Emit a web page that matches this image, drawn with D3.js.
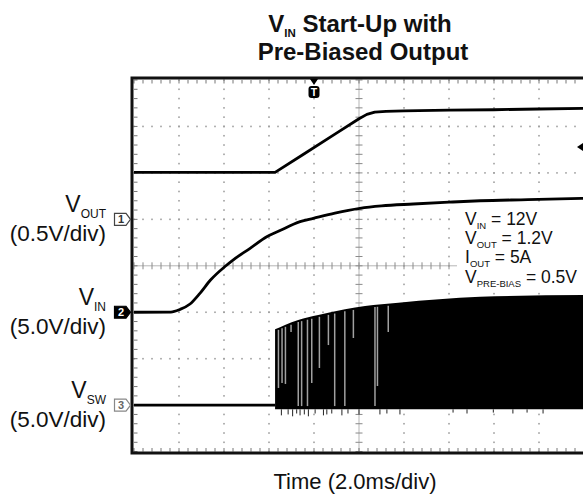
<!DOCTYPE html>
<html><head><meta charset="utf-8">
<script src="https://cdn.jsdelivr.net/npm/d3@7"></script>
<style>
html,body{margin:0;padding:0;background:#fff;}
svg{display:block;font-family:"Liberation Sans",Arial,Helvetica,sans-serif;}
</style></head><body>
<svg id="chart" width="583" height="497"></svg>
<script>
// ---------- data ----------
const titleLine1 = ["V", "IN", " Start-Up with"];
const titleLine2 = "Pre-Biased Output";
const xLabel = "Time (2.0ms/div)";
const msPerDiv = 2.0;
const timeDomain = [0, 20];           // ms across 10 divisions
const triggerTime = 8.0;              // ms
const triggerLevelDiv = 2.56;

const channelMain = ["V", "V", "V"];
const channelSub = ["OUT", "IN", "SW"];
const channelScaleText = ["(0.5V/div)", "(5.0V/div)", "(5.0V/div)"];
const channelNum = ["1", "2", "3"];
const voltsPerDiv = [0.5, 5.0, 5.0];
const groundDiv = [1, -1, -3];

// Channel 1: V_OUT (V)
const voutT = [0, 3, 6.27, 7.5, 9.0, 10.0, 10.35, 10.7, 11.2, 12, 14, 16, 18, 20];
const voutV = [0.505, 0.505, 0.505, 0.695, 0.928, 1.083, 1.130, 1.155, 1.163, 1.168, 1.175, 1.180, 1.188, 1.195];

// Channel 2: V_IN (V)
const vinT = [0, 1.64, 2.04, 2.49, 2.93, 3.40, 4.07, 4.40, 5.16, 5.90, 6.49, 7.38, 7.97, 8.93, 10.04, 11.0, 12.41, 14.0, 15.38, 17.5, 20];
const vinV = [0, 0.02, 0.30, 0.89, 2.04, 3.47, 4.98, 5.62, 6.88, 8.13, 8.80, 9.75, 10.11, 10.68, 11.19, 11.45, 11.65, 11.85, 12.0, 12.12, 12.27];

// Channel 3: V_SW (V) - idle part and switching envelope
const vswIdleT = [0, 6.27];
const vswIdleV = [0, 0];
const vswEnvT = [6.27, 6.71, 7.30, 8.19, 9.38, 10.27, 11.75, 15.38, 20];
const vswHighV = [8.16, 8.63, 9.17, 9.70, 10.32, 10.67, 11.03, 11.67, 11.86];
const vswLowV = [-0.45, -0.45, -0.45, -0.45, -0.45, -0.45, -0.45, -0.45, -0.45];
// pulse-skipping gaps: time (ms) and lowest voltage of gap
const gapT = [6.42, 6.58, 6.73, 6.98, 7.30, 7.45, 7.71, 7.90, 8.24, 8.64, 8.92, 9.37, 9.75, 10.71, 10.82, 11.30];
const gapV = [1.85, 2.39, 2.28, 7.87, -0.1, -0.1, -0.1, 2.39, 4.0, 6.47, -0.1, -0.1, 7.23, -0.1, 2.06, 7.87];
// ringing spikes below the low envelope
const spikeT = [6.55, 6.85, 7.05, 7.23, 7.38, 7.57, 7.75, 8.05, 8.42, 8.57, 8.79, 9.24, 9.51, 10.0, 10.93, 11.24, 11.82, 14.18, 14.8, 15.97, 16.84, 17.47, 18.18];
const spikeV = [-1.1, -1.0, -1.2, -0.9, -1.1, -1.0, -1.2, -0.9, -1.1, -1.0, -0.9, -1.1, -0.9, -1.0, -1.0, -0.9, -1.0, -0.8, -0.9, -0.8, -0.9, -0.8, -0.9];

const noteMain = ["V", "V", "I", "V"];
const noteSub = ["IN", "OUT", "OUT", "PRE-BIAS"];
const noteRest = [" = 12V", " = 1.2V", " = 5A", " = 0.5V"];

// ---------- layout ----------
const svg = d3.select("#chart");
const x = d3.scaleLinear().domain(timeDomain).range([134, 584]);
const yDiv = d3.scaleLinear().domain([-4, 4]).range([451.6, 80]);
const chY = i => d3.scaleLinear().domain([0, voltsPerDiv[i]]).range([yDiv(groundDiv[i]), yDiv(groundDiv[i] + 1)]);
const yOut = chY(0), yIn = chY(1), ySw = chY(2);

// title
const t1 = svg.append("text").attr("x", 360).attr("y", 31.5).attr("text-anchor", "middle")
  .attr("font-size", 24).attr("font-weight", "bold").attr("fill", "#111");
t1.append("tspan").text(titleLine1[0]);
t1.append("tspan").attr("font-size", 11.5).attr("dy", 5.5).text(titleLine1[1]);
t1.append("tspan").attr("dy", -5.5).text(titleLine1[2]);
svg.append("text").attr("x", 363).attr("y", 60).attr("text-anchor", "middle")
  .attr("font-size", 24).attr("font-weight", "bold").attr("fill", "#111").text(titleLine2);

// graticule
const g = svg.append("g");
const minorX = d3.range(timeDomain[0], timeDomain[1] + 0.001, msPerDiv / 5);
const minorY = d3.range(-4, 4.001, 0.2);
const majorX = d3.range(1, 10).map(d => timeDomain[0] + d * msPerDiv);
const majorY = d3.range(-3, 4);
const dotColor = "#a0a0a0";
majorX.forEach(mx => {
  if (Math.abs(mx - 10) < 1e-6) return;
  minorY.forEach(my => g.append("rect").attr("x", x(mx) - 0.8).attr("y", yDiv(my) - 0.8)
    .attr("width", 1.6).attr("height", 1.6).attr("fill", dotColor));
});
majorY.forEach(my => {
  if (my === 0) return;
  minorX.forEach(mx => g.append("rect").attr("x", x(mx) - 0.8).attr("y", yDiv(my) - 0.8)
    .attr("width", 1.6).attr("height", 1.6).attr("fill", dotColor));
});
// center crosshair with ticks
g.append("line").attr("x1", x(0)).attr("x2", x(20)).attr("y1", yDiv(0)).attr("y2", yDiv(0))
  .attr("stroke", "#b5b5b5").attr("stroke-width", 1);
g.append("line").attr("x1", x(10)).attr("x2", x(10)).attr("y1", yDiv(-4)).attr("y2", yDiv(4))
  .attr("stroke", "#b5b5b5").attr("stroke-width", 1);
minorX.forEach(mx => g.append("line").attr("x1", x(mx)).attr("x2", x(mx))
  .attr("y1", yDiv(0) - 3.5).attr("y2", yDiv(0) + 3.5).attr("stroke", "#8a8a8a"));
minorY.forEach(my => g.append("line").attr("y1", yDiv(my)).attr("y2", yDiv(my))
  .attr("x1", x(10) - 3.5).attr("x2", x(10) + 3.5).attr("stroke", "#8a8a8a"));
// edge ticks
minorX.forEach(mx => {
  g.append("line").attr("x1", x(mx)).attr("x2", x(mx)).attr("y1", 80).attr("y2", 83.5).attr("stroke", "#777");
  g.append("line").attr("x1", x(mx)).attr("x2", x(mx)).attr("y1", 451.6).attr("y2", 448).attr("stroke", "#777");
});
minorY.forEach(my => g.append("line").attr("y1", yDiv(my)).attr("y2", yDiv(my))
  .attr("x1", 134).attr("x2", 137.5).attr("stroke", "#777"));

// frame
svg.append("rect").attr("x", 132).attr("y", 78).attr("width", 454).attr("height", 375)
  .attr("fill", "none").attr("stroke", "#111").attr("stroke-width", 3);

// annotation background
svg.append("rect").attr("x", 457).attr("y", 206).attr("width", 126).attr("height", 83).attr("fill", "#fff");

// traces
const lineOut = d3.line().x((d, i) => x(voutT[i])).y(d => yOut(d));
const lineIn = d3.line().x((d, i) => x(vinT[i])).y(d => yIn(d)).curve(d3.curveMonotoneX);
const lineSw = d3.line().x((d, i) => x(vswIdleT[i])).y(d => ySw(d));
const traceStyle = s => s.attr("fill", "none").attr("stroke", "#000").attr("stroke-width", 2.8)
  .attr("stroke-linejoin", "round").attr("stroke-linecap", "butt");
svg.append("path").attr("d", lineOut(voutV)).call(traceStyle);
svg.append("path").attr("d", lineIn(vinV)).call(traceStyle);
svg.append("path").attr("d", lineSw(vswIdleV)).call(traceStyle);

const areaSw = d3.area().x((d, i) => x(vswEnvT[i])).y0((d, i) => ySw(vswLowV[i])).y1(d => ySw(d))
  .curve(d3.curveMonotoneX);
svg.append("path").attr("d", areaSw(vswHighV)).attr("fill", "#000");
const topAt = d3.scaleLinear().domain(vswEnvT).range(vswHighV);
gapT.forEach((t, i) => svg.append("line").attr("x1", x(t)).attr("x2", x(t))
  .attr("y1", ySw(topAt(t)) + 2).attr("y2", ySw(gapV[i]))
  .attr("stroke", "#a0a0a0").attr("stroke-width", 1.5));
spikeT.forEach((t, i) => svg.append("line").attr("x1", x(t)).attr("x2", x(t))
  .attr("y1", ySw(-0.45)).attr("y2", ySw(spikeV[i])).attr("stroke", "#222").attr("stroke-width", 1));

// channel labels and markers
[0, 1, 2].forEach(i => {
  const gy = yDiv(groundDiv[i]);
  const lab = svg.append("text").attr("x", 106).attr("y", gy - 7).attr("text-anchor", "end")
    .attr("font-size", 23).attr("fill", "#111");
  lab.append("tspan").text(channelMain[i]);
  lab.append("tspan").attr("font-size", 12).attr("dy", 6).text(channelSub[i]);
  svg.append("text").attr("x", 106).attr("y", gy + 22).attr("text-anchor", "end")
    .attr("font-size", 22.5).attr("fill", "#111").text(channelScaleText[i]);
  const filled = i === 1;
  svg.append("path").attr("d", `M114.5,${gy - 6}H126L130.5,${gy}L126,${gy + 6}H114.5Z`)
    .attr("fill", filled ? "#000" : "#fff").attr("stroke", filled ? "#000" : (i === 2 ? "#888" : "#444"))
    .attr("stroke-width", 1.2);
  svg.append("text").attr("x", 121).attr("y", gy + 4).attr("text-anchor", "middle")
    .attr("font-size", 11).attr("font-weight", "bold")
    .attr("fill", filled ? "#fff" : (i === 2 ? "#666" : "#333")).text(channelNum[i]);
});

// trigger markers
const tx = x(triggerTime);
svg.append("path").attr("d", `M${tx - 4},79L${tx + 4},79L${tx},85Z`).attr("fill", "#000");
svg.append("rect").attr("x", tx - 5.5).attr("y", 86).attr("width", 11).attr("height", 12).attr("rx", 3).attr("fill", "#000");
svg.append("text").attr("x", tx).attr("y", 96).attr("text-anchor", "middle").attr("font-size", 10.5)
  .attr("font-weight", "bold").attr("fill", "#fff").text("T");
const ly = yDiv(triggerLevelDiv);
svg.append("path").attr("d", `M577,${ly}L583,${ly - 4}L583,${ly + 4}Z`).attr("fill", "#000");

// annotation
const noteY = [224.5, 243.5, 262.5, 282.5];
noteMain.forEach((m, i) => {
  const tt = svg.append("text").attr("x", 465).attr("y", noteY[i]).attr("font-size", 17.5).attr("fill", "#111");
  tt.append("tspan").text(m);
  tt.append("tspan").attr("font-size", 9.5).attr("dy", 4).text(noteSub[i]);
  tt.append("tspan").attr("dy", -4).text(noteRest[i]);
});

// x label
svg.append("text").attr("x", 355).attr("y", 489).attr("text-anchor", "middle")
  .attr("font-size", 22).attr("fill", "#111").text(xLabel);
</script>
</body></html>
